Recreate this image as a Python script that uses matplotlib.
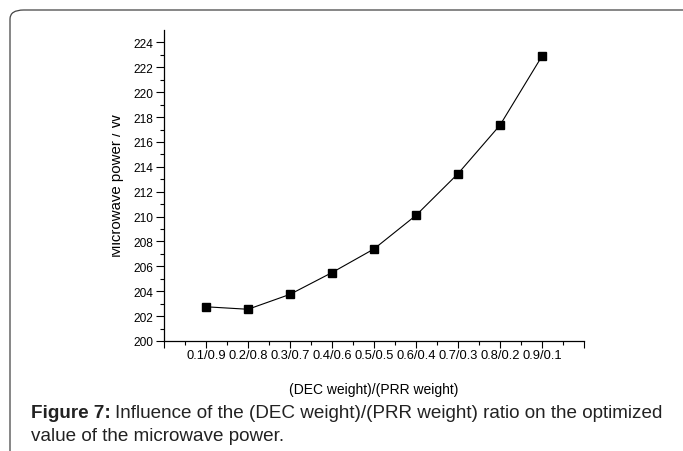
import numpy as np
import matplotlib.pyplot as plt
from matplotlib.patches import FancyBboxPatch
from matplotlib.transforms import Bbox

# (DEC weight)/(PRR weight) ratios and optimized microwave power
ratios = ["0.1/0.9", "0.2/0.8", "0.3/0.7", "0.4/0.6", "0.5/0.5",
          "0.6/0.4", "0.7/0.3", "0.8/0.2", "0.9/0.1"]
power = [202.75, 202.55, 203.75, 205.5, 207.4, 210.1, 213.45, 217.35, 222.9]

plt.rcParams['font.family'] = ['Liberation Sans', 'DejaVu Sans']


def main():
    W, H = 683, 452
    fig = plt.figure(figsize=(W / 100, H / 100), dpi=100)

    # frame around the figure (cropped on the right and bottom)
    frame = FancyBboxPatch((10 / W, -1.0), 2.0, 2.0 - 11 / H,
                           boxstyle="round,pad=0,rounding_size=0.02",
                           transform=fig.transFigure, fill=False,
                           edgecolor="#444444", linewidth=0.9)
    fig.patches.append(frame)

    ax = fig.add_axes([164 / W, 1 - 342 / H, 420 / W, 311 / H])
    x = np.arange(1, len(ratios) + 1)
    ax.plot(x, power, color="black", linewidth=0.8, marker="s",
            markersize=6, markerfacecolor="black", markeredgecolor="black")

    ax.set_xlim(0, 10)
    ax.set_ylim(200, 225)
    ax.set_xticks(np.arange(0, 11))
    ax.set_xticklabels([""] + ratios + [""])
    ax.set_xticks(np.arange(0.5, 10, 1), minor=True)
    ax.set_yticks(np.arange(200, 225, 2))
    ax.set_yticks(np.arange(201, 225, 2), minor=True)

    for s in ["top", "right"]:
        ax.spines[s].set_visible(False)
    for s in ["left", "bottom"]:
        ax.spines[s].set_linewidth(0.9)

    ax.tick_params(which="major", direction="out", length=6, width=0.8, pad=2)
    ax.tick_params(which="minor", direction="out", length=3, width=0.8)
    ax.tick_params(axis="x", which="major", length=5, labelsize=9.3, pad=1)
    ax.tick_params(axis="y", labelsize=8.6)

    ax.set_xlabel("(DEC weight)/(PRR weight)", fontsize=10, labelpad=15)

    # y label, partly cut off on the left as in the original figure
    yl = fig.text(121 / W, 1 - 185 / H, "Microwave power / W", fontsize=10.8,
                  rotation=90, rotation_mode="anchor", ha="center",
                  va="baseline")
    yl.set_clip_box(Bbox([[112, 0], [W, H]]))
    yl.set_clip_on(True)

    # caption: bold "Figure 7:" followed by normal text
    cap = dict(fontsize=13.6, va="center", ha="left", color="#222222")
    t = fig.text(31 / W, 1 - 414 / H, "Figure 7:", fontweight="bold", **cap)
    fig.canvas.draw()
    bb = t.get_window_extent()
    fig.text((bb.x1 + 4) / W, 1 - 414 / H,
             "Influence of the (DEC weight)/(PRR weight) ratio on the optimized",
             **cap)
    fig.text(31 / W, 1 - 437 / H, "value of the microwave power.", **cap)

    fig.savefig("out.png", dpi=100)


if __name__ == "__main__":
    main()
